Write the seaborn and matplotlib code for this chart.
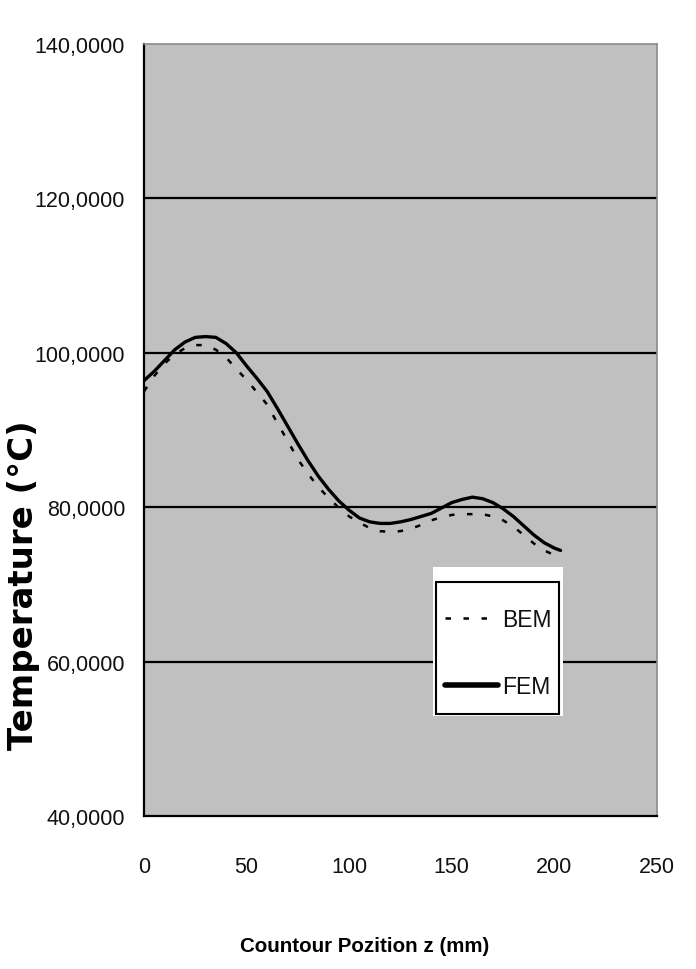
import numpy as np
import pandas as pd
import matplotlib
matplotlib.use("Agg")
import matplotlib.pyplot as plt
from matplotlib.patches import Rectangle
from matplotlib.lines import Line2D
import seaborn as sns

# ---- data ----
z_mm = [0, 5, 10, 15, 20, 25, 30, 35, 40, 45, 50, 55, 60, 65, 70, 75, 80, 85, 90, 95,
        100, 105, 110, 115, 120, 125, 130, 135, 140, 145, 150, 155, 160, 165, 170, 175,
        180, 185, 190, 195, 200, 203]
fem_T = [96.4, 97.6, 99.0, 100.4, 101.4, 102.0, 102.1, 102.0, 101.2, 100.0, 98.3, 96.7,
         95.0, 92.8, 90.5, 88.2, 86.0, 84.0, 82.3, 80.8, 79.6, 78.6, 78.1, 77.9, 77.9,
         78.1, 78.4, 78.8, 79.2, 79.9, 80.6, 81.0, 81.3, 81.1, 80.6, 79.8, 78.8, 77.6,
         76.4, 75.4, 74.7, 74.4]
bem_T = [95.0, 97.0, 98.6, 99.8, 100.6, 101.0, 101.0, 100.4, 99.4, 97.9, 96.5, 94.9,
         93.3, 90.9, 88.6, 86.2, 84.3, 82.6, 81.2, 79.9, 78.8, 78.0, 77.3, 76.9, 76.8,
         76.9, 77.2, 77.7, 78.3, 78.7, 79.0, 79.1, 79.1, 79.1, 78.8, 78.3, 77.5, 76.4,
         75.3, 74.4, 73.8, 73.6]
x_ticks = [0, 50, 100, 150, 200, 250]
y_ticks = [40, 60, 80, 100, 120, 140]
y_tick_labels = ["40,0000", "60,0000", "80,0000", "100,0000", "120,0000", "140,0000"]
series_names = ["BEM", "FEM"]
x_label = "Countour Pozition z (mm)"
y_label = "Temperature (°C)"

df = pd.concat([
    pd.DataFrame({"z": z_mm, "T": bem_T, "series": "BEM"}),
    pd.DataFrame({"z": z_mm, "T": fem_T, "series": "FEM"}),
])

sns.set_theme(style="white")
plt.rcParams["font.family"] = ["Liberation Sans", "DejaVu Sans"]

W, H = 696, 970
fig = plt.figure(figsize=(W/100, H/100), dpi=100)
L, R, T, B = 144, 657, 45, 817
ax = fig.add_axes([L/W, 1-B/H, (R-L)/W, (B-T)/H])
ax.set_facecolor("#C0C0C0")

def ax_x(px):
    return (px - L) / (R - L)

def ax_y(py):
    return (B - py) / (B - T)

for yv in [60, 80, 100, 120]:
    ax.axhline(yv, color="black", lw=1.6, zorder=1)

bem_dash = (2.2, 5.0)
sns.lineplot(data=df, x="z", y="T", hue="series", style="series",
             palette={"BEM": "black", "FEM": "black"},
             dashes={"BEM": bem_dash, "FEM": ""},
             size="series", sizes={"BEM": 1.8, "FEM": 2.4},
             estimator=None, sort=False, ax=ax, legend=False, zorder=3)

ax.set_xlim(0, 250)
ax.set_ylim(40, 140)
ax.set_xticks(x_ticks)
ax.set_xticklabels([str(v) for v in x_ticks])
ax.set_yticks(y_ticks)
ax.set_yticklabels(y_tick_labels)
ax.tick_params(axis="both", direction="out", width=1.2, color="black",
               labelsize=15.5, labelcolor="#111111")
ax.tick_params(axis="x", length=8, pad=21)
ax.tick_params(axis="y", length=6.5, pad=7)
ax.set_xlabel("")
ax.set_ylabel("")

for s in ["left", "bottom"]:
    ax.spines[s].set_color("black")
    ax.spines[s].set_linewidth(1.6)
for s in ["top", "right"]:
    ax.spines[s].set_color("#8a8a8a")
    ax.spines[s].set_linewidth(1.2)

# legend: white panel, black frame, frameless legend entries on top
ax.add_patch(Rectangle((ax_x(433), ax_y(717)), ax_x(563) - ax_x(433), ax_y(568) - ax_y(717),
                       transform=ax.transAxes, facecolor="white", edgecolor="none", zorder=4))
ax.add_patch(Rectangle((ax_x(436), ax_y(715)), ax_x(559) - ax_x(436), ax_y(583) - ax_y(715),
                       transform=ax.transAxes, facecolor="white", edgecolor="black",
                       lw=1.5, zorder=4.5))
handles = [Line2D([], [], color="black", lw=1.8, dashes=bem_dash),
           Line2D([], [], color="black", lw=4.0)]
leg = ax.legend(handles, series_names, loc="upper left",
                bbox_to_anchor=(ax_x(445), ax_y(609)),
                frameon=False, fontsize=16.5, labelcolor="#111111",
                handlelength=2.3, handletextpad=0.18, labelspacing=1.9,
                borderpad=0, borderaxespad=0)
leg.set_zorder(5)

fig.text(365/W, 1-947/H, x_label, ha="center", va="center",
         fontsize=14.8, fontweight="bold", color="black")
fig.text(24/W, 1-585/H, y_label, ha="center", va="center",
         rotation=90, fontsize=24.5, fontweight="bold", color="black",
         family=["DejaVu Sans"])

fig.savefig("out.png", dpi=100, facecolor="white")
